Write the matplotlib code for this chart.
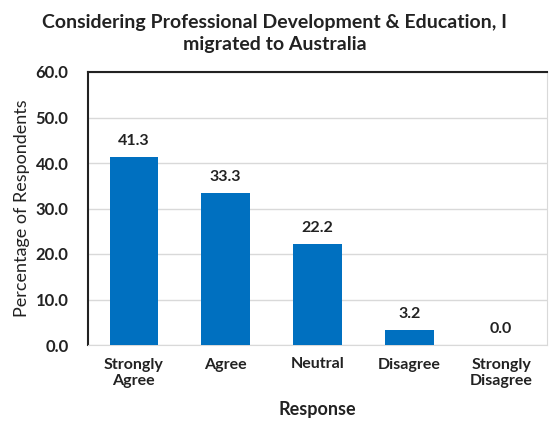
import matplotlib
matplotlib.use("Agg")
import matplotlib.pyplot as plt

categories = ["Strongly\nAgree", "Agree", "Neutral", "Disagree", "Strongly\nDisagree"]
values = [41.3, 33.3, 22.2, 3.2, 0.0]
yticks = [0, 10, 20, 30, 40, 50, 60]

plt.rcParams['font.family'] = ['Lato', 'DejaVu Sans']

fig = plt.figure(figsize=(5.49, 4.25), dpi=100)
ax = fig.add_axes([88/549, 80/425, 459/549, 273/425])

x = range(len(categories))
bars = ax.bar(x, values, width=0.53, color="#0070C0", zorder=3)
for xi, v in zip(x, values):
    ax.text(xi, v + 2.0, f"{v:.1f}", ha="center", va="bottom", fontsize=11.5,
            fontweight="bold", color="#222222")

ax.set_xlim(-0.5, len(categories) - 0.5)
ax.set_ylim(0, 60)
ax.set_yticks(yticks)
ax.set_yticklabels([f"{t:.1f}" for t in yticks], fontsize=12, fontweight="bold", color="#222222")
ax.set_xticks(list(x))
ax.set_xticklabels(categories, fontsize=11.5, fontweight="bold", color="#222222", linespacing=1.25)
ax.tick_params(axis="y", length=0, pad=14)
ax.tick_params(axis="x", length=0, pad=9)
ax.yaxis.grid(True, color="#d9d9d9", linewidth=1.0, zorder=0)
ax.set_axisbelow(True)

ax.spines["top"].set_color("#222222")
ax.spines["left"].set_color("#222222")
ax.spines["top"].set_linewidth(1.5)
ax.spines["left"].set_linewidth(1.5)
ax.spines["right"].set_color("#d9d9d9")
ax.spines["bottom"].set_color("#d9d9d9")

ax.set_xlabel("Response", fontsize=13, fontweight="bold", color="#222222", labelpad=9)
ax.set_ylabel("Percentage of Respondents", fontsize=13, color="#222222", labelpad=4)

fig.text(0.5, 0.922, "Considering Professional Development & Education, I\nmigrated to Australia",
         ha="center", va="center", fontsize=14, fontweight="bold", color="#222222", linespacing=1.35)

fig.savefig("out.png", dpi=100)
